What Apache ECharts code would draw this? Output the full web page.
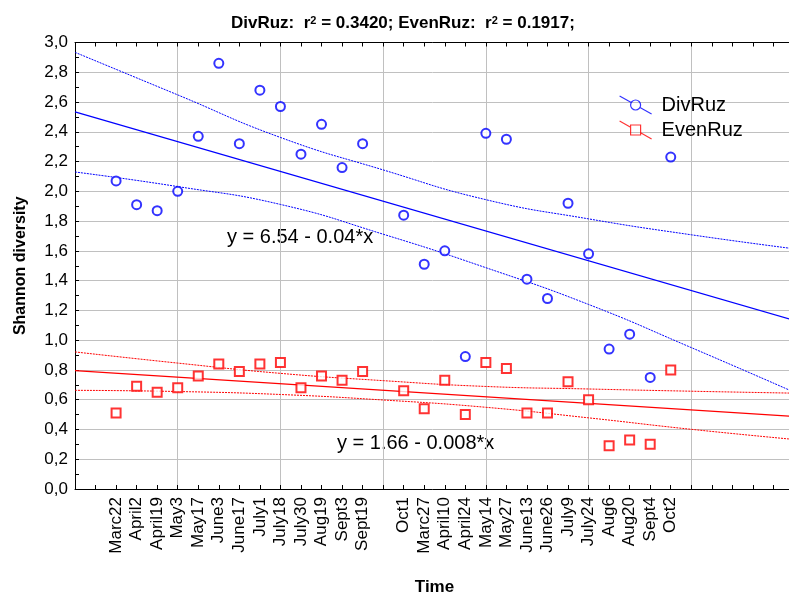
<!DOCTYPE html>
<html>
<head>
<meta charset="utf-8">
<script src="https://cdn.jsdelivr.net/npm/echarts@6/dist/echarts.min.js"></script>
<style>
  html, body { margin: 0; padding: 0; background: #fff; }
  #chart { width: 789px; height: 594px; }
</style>
</head>
<body>
<div id="chart"></div>
<script>
// sampling dates (x index starts at firstIndex, '' = empty slot)
const dates = ['Marc22', 'April2', 'April19', 'May3', 'May17', 'June3', 'June17', 'July1', 'July18',
    'July30', 'Aug19', 'Sept3', 'Sept19', '', 'Oct1', 'Marc27', 'April10', 'April24', 'May14',
    'May27', 'June13', 'June26', 'July9', 'July24', 'Aug6', 'Aug20', 'Sept4', 'Oct2'];
const firstIndex = 2;

const divRuz = [2.07, 1.91, 1.87, 2.00, 2.37, 2.86, 2.32, 2.68, 2.57, 2.25, 2.45, 2.16, 2.32, null,
    1.84, 1.51, 1.60, 0.89, 2.39, 2.35, 1.41, 1.28, 1.92, 1.58, 0.94, 1.04, 0.75, 2.23];
const evenRuz = [0.51, 0.69, 0.65, 0.68, 0.76, 0.84, 0.79, 0.84, 0.85, 0.68, 0.76, 0.73, 0.79, null,
    0.66, 0.54, 0.73, 0.50, 0.85, 0.81, 0.51, 0.51, 0.72, 0.60, 0.29, 0.33, 0.30, 0.80];

// fitted lines and 95% bands
const fitX = [0, 35];
const divFit = [2.534, 1.134];
const evenFit = [0.795, 0.488];
const bandX = [0, 5, 10, 15, 20, 25, 30, 35];
const divUpper = [2.934, 2.648, 2.362, 2.144, 1.944, 1.815, 1.708, 1.614];
const divLower = [2.130, 2.032, 1.912, 1.712, 1.487, 1.240, 0.950, 0.651];
const evenUpper = [0.921, 0.846, 0.777, 0.728, 0.689, 0.672, 0.657, 0.644];
const evenLower = [0.663, 0.655, 0.635, 0.598, 0.549, 0.478, 0.401, 0.333];

const yTicks = { min: 0, max: 3, step: 0.2 };

const FONT = "'Liberation Sans', Arial, sans-serif";
const BLUE = '#0000ff';
const RED = '#ff0000';

const pts = (vals) => vals.map((v, i) => v == null ? null : [i + firstIndex, v]).filter(p => p);
const pairs = (xs, ys) => xs.map((x, i) => [x, ys[i]]);

const circleIcon = 'path://M0,0L11.64,6.55M20.36,11.45L32,18M21,9A5,5,0,1,1,11,9A5,5,0,1,1,21,9Z';
const squareIcon = 'path://M0,0L11,6.19M21,11.81L32,18M11,4L21,4L21,14L11,14Z';

const chart = echarts.init(document.getElementById('chart'));

const bandLine = (name, xs, ys, color) => ({
    name: name,
    type: 'line',
    data: pairs(xs, ys),
    smooth: true,
    symbol: 'none',
    silent: true,
    lineStyle: { color: color, width: 1, type: [2, 1] },
    z: 3
});

chart.setOption({
    animation: false,
    textStyle: { fontFamily: FONT },
    title: {
        text: '{b|DivRuz:  r}{s|2}{b| = 0.3420; EvenRuz:  r}{s|2}{b| = 0.1917;}',
        left: 226,
        top: 10,
        textStyle: {
            rich: {
                b: { fontSize: 17, fontWeight: 'bold', color: '#000', fontFamily: FONT },
                s: { fontSize: 11, fontWeight: 'bold', color: '#000', fontFamily: FONT, verticalAlign: 'top' }
            }
        }
    },
    legend: {
        orient: 'vertical',
        left: 619,
        top: 95,
        padding: 0,
        itemWidth: 32,
        itemHeight: 18,
        itemGap: 5,
        textStyle: { fontSize: 20, color: '#000', fontFamily: FONT, padding: [0, 0, 0, 5], lineHeight: 18 },
        data: [
            { name: 'DivRuz', icon: circleIcon, itemStyle: { color: 'transparent', borderColor: BLUE, borderWidth: 1.2 } },
            { name: 'EvenRuz', icon: squareIcon, itemStyle: { color: 'transparent', borderColor: RED, borderWidth: 1.2 } }
        ]
    },
    grid: { left: 75, right: -5, top: 42.5, bottom: 105, outerBoundsMode: 'none', containLabel: false },
    xAxis: [
        {
            type: 'value', min: 0, max: 35, interval: 5, position: 'bottom',
            axisLine: { show: true, lineStyle: { color: '#000', width: 1 } },
            axisTick: { show: false },
            axisLabel: { show: false },
            splitLine: { show: true, lineStyle: { color: '#c0c0c0', width: 1 } }
        },
        {
            type: 'value', min: 0, max: 35, interval: 1, position: 'bottom',
            axisLine: { show: false },
            axisTick: { show: true, inside: true, length: 4, lineStyle: { color: '#000' } },
            splitLine: { show: false },
            axisLabel: {
                rotate: 90, fontSize: 17, color: '#000', margin: 8, fontFamily: FONT,
                formatter: v => dates[Math.round(v) - firstIndex] || ''
            },
            name: 'Time', nameLocation: 'middle', nameGap: 90,
            nameTextStyle: { fontSize: 17, fontWeight: 'bold', color: '#000', fontFamily: FONT }
        },
        {
            type: 'value', min: 0, max: 35, interval: 1, position: 'top',
            axisLine: { show: true, lineStyle: { color: '#000', width: 1 } },
            axisTick: { show: true, inside: true, length: 4, lineStyle: { color: '#000' } },
            axisLabel: { show: false },
            splitLine: { show: false }
        }
    ],
    yAxis: {
        type: 'value', min: yTicks.min, max: yTicks.max, interval: yTicks.step,
        axisLine: { show: true, lineStyle: { color: '#000', width: 1 } },
        axisTick: { show: true, inside: true, length: 4, lineStyle: { color: '#000' } },
        minorTick: { show: true, splitNumber: 2, length: 4, lineStyle: { color: '#000' } },
        splitLine: { show: true, lineStyle: { color: '#c0c0c0', width: 1 } },
        axisLabel: {
            fontSize: 17, color: '#000', margin: 7, fontFamily: FONT,
            formatter: v => v.toFixed(1).replace('.', ',')
        },
        name: 'Shannon diversity', nameLocation: 'middle', nameGap: 46,
        nameTextStyle: { fontSize: 16, fontWeight: 'bold', color: '#000', fontFamily: FONT }
    },
    graphic: [
        { type: 'text', x: 227, y: 237, silent: true,
          style: { text: 'y = 6.54 - 0.04*x', fontSize: 20, fontFamily: FONT, fill: '#000', verticalAlign: 'middle' } },
        { type: 'text', x: 337, y: 443, silent: true,
          style: { text: 'y = 1.66 - 0.008*x', fontSize: 20, fontFamily: FONT, fill: '#000', verticalAlign: 'middle' } }
    ],
    series: [
        {
            name: 'DivRuz fit', type: 'line', data: pairs(fitX, divFit), symbol: 'none', silent: true,
            lineStyle: { color: BLUE, width: 1.2 }, z: 3
        },
        bandLine('DivRuz upper', bandX, divUpper, BLUE),
        bandLine('DivRuz lower', bandX, divLower, BLUE),
        {
            name: 'EvenRuz fit', type: 'line', data: pairs(fitX, evenFit), symbol: 'none', silent: true,
            lineStyle: { color: RED, width: 1.2 }, z: 3
        },
        bandLine('EvenRuz upper', bandX, evenUpper, RED),
        bandLine('EvenRuz lower', bandX, evenLower, RED),
        {
            name: 'DivRuz', type: 'scatter', data: pts(divRuz),
            symbol: 'emptyCircle', symbolSize: 9,
            itemStyle: { color: BLUE, borderWidth: 1.4 }, z: 5
        },
        {
            name: 'EvenRuz', type: 'scatter', data: pts(evenRuz),
            symbol: 'emptyRect', symbolSize: 9,
            itemStyle: { color: RED, borderWidth: 1.4 }, z: 5
        }
    ]
});
</script>
</body>
</html>
